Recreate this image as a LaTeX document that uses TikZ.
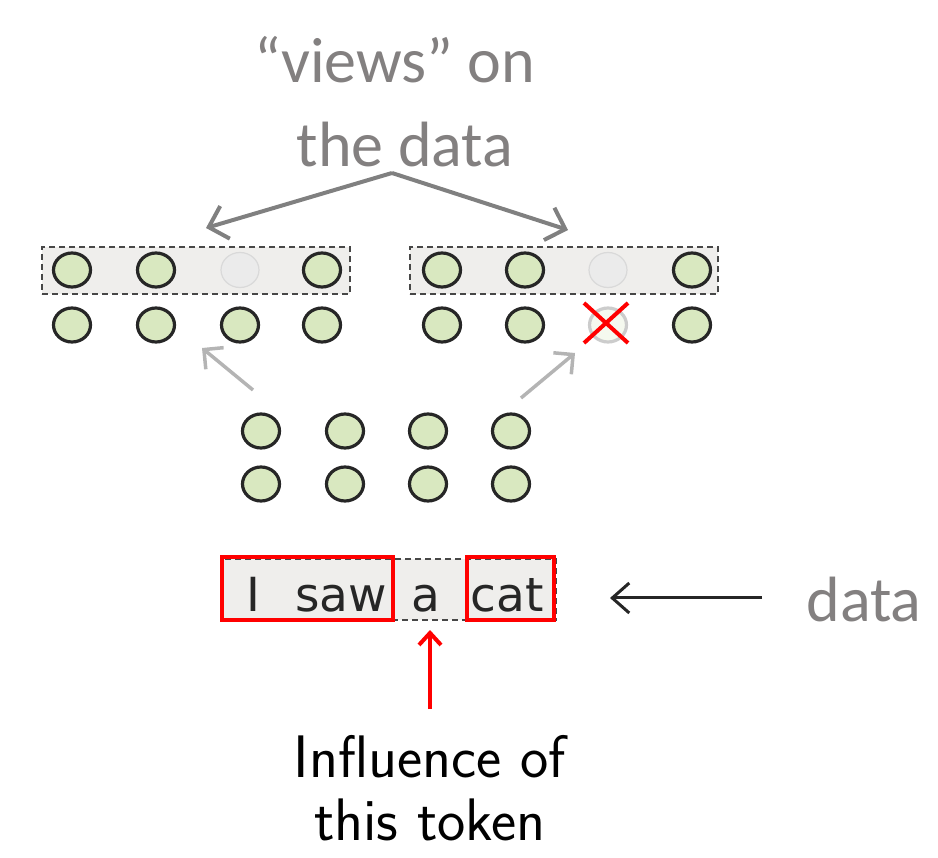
\documentclass[tikz,border=0pt]{standalone}
\usepackage{fontspec}
\setmainfont{Carlito}
\newfontfamily\wordfont{DejaVu Sans}
\usetikzlibrary{arrows.meta,positioning,shapes.geometric}

\definecolor{unitgreen}{HTML}{D9E8C0}
\definecolor{unitline}{HTML}{262626}
\definecolor{viewfill}{HTML}{EFEEEC}
\definecolor{notegray}{HTML}{838080}
\definecolor{lightgray}{HTML}{B4B4B4}

\tikzstyle{unit} = [ellipse,draw=unitline,fill=unitgreen,line width=3.2pt,minimum width=37pt,minimum height=34pt,inner sep=0pt]
\tikzstyle{faded} = [ellipse,draw=black!15,fill=black!8,line width=1.2pt,minimum width=38pt,minimum height=35pt,inner sep=0pt]
\tikzstyle{dropped} = [ellipse,draw=black!20,fill=unitgreen!25,line width=3.2pt,minimum width=37pt,minimum height=34pt,inner sep=0pt]
\tikzstyle{view} = [rectangle,draw=unitline!85,fill=viewfill,dash pattern=on 6pt off 4pt,line width=1.8pt,inner sep=0pt]
\tikzstyle{word} = [anchor=base,inner sep=0pt,text=unitline,font=\wordfont\fontsize{47}{47}\selectfont]
\tikzstyle{note} = [anchor=base,inner sep=0pt,text=notegray,font=\fontsize{64}{64}\selectfont]
\tikzstyle{redbox} = [rectangle,draw=red,line width=3.5pt,inner sep=0pt,minimum height=63pt]

\begin{document}
\begin{tikzpicture}[x=1pt,y=-1pt]
	\useasboundingbox (0,0) rectangle (938,858);
	% views on the data
	\node (views1) [note] at (395,83) {“views” on};
	\node (views2) [note] at (405,167) {the data};
	\coordinate (apex) at (392,173);
	\coordinate (lefttip) at (206,228);
	\coordinate (righttip) at (568,230);
	\draw [-{Straight Barb[length=17pt,width=34pt]},draw=gray,line width=4pt] (apex) -- (lefttip);
	\draw [-{Straight Barb[length=17pt,width=34pt]},draw=gray,line width=4pt] (apex) -- (righttip);
	% two views
	\node (leftview) [view,minimum width=308pt,minimum height=47pt] at (196,270.5) {};
	\node (rightview) [view,minimum width=308pt,minimum height=47pt] at (564,270.5) {};
	\node (lt1) [unit] at (72,270) {};
	\node (lt2) [unit] at (156,270) {};
	\node (lt3) [faded] at (240,270) {};
	\node (lt4) [unit] at (322,270) {};
	\node (lb1) [unit] at (72,325) {};
	\node (lb2) [unit] at (156,325) {};
	\node (lb3) [unit] at (240,325) {};
	\node (lb4) [unit] at (322,325) {};
	\node (rt1) [unit] at (442,270) {};
	\node (rt2) [unit] at (525,270) {};
	\node (rt3) [faded] at (608,270) {};
	\node (rt4) [unit] at (692,270) {};
	\node (rb1) [unit] at (442,325) {};
	\node (rb2) [unit] at (525,325) {};
	\node (rb3) [dropped] at (608,325) {};
	\node (rb4) [unit] at (692,325) {};
	\draw [red,line width=4pt] ([shift={(-24,-22)}]rb3.center) -- ([shift={(20,18)}]rb3.center);
	\draw [red,line width=4pt] ([shift={(-24,18)}]rb3.center) -- ([shift={(20,-22)}]rb3.center);
	% hidden states
	\node (mt1) [unit] at (261,431) {};
	\node (mt2) [unit] at (345,431) {};
	\node (mt3) [unit] at (428,431) {};
	\node (mt4) [unit] at (511,431) {};
	\node (mb1) [unit] at (261,484) {};
	\node (mb2) [unit] at (345,484) {};
	\node (mb3) [unit] at (428,484) {};
	\node (mb4) [unit] at (511,484) {};
	\coordinate (leftfoot) at (253,390);
	\coordinate (lefthead) at (202,348);
	\coordinate (rightfoot) at (521,398);
	\coordinate (righthead) at (575,353);
	\draw [-{Straight Barb[length=14pt,width=28pt]},draw=lightgray,line width=3.5pt] (leftfoot) -- (lefthead);
	\draw [-{Straight Barb[length=14pt,width=28pt]},draw=lightgray,line width=3.5pt] (rightfoot) -- (righthead);
	% data
	\node (sentence) [view,minimum width=334pt,minimum height=61pt] at (389,589.5) {};
	\node (wordi) [word] at (253,612) {I};
	\node (wordsaw) [word] at (341,612) {saw};
	\node (worda) [word] at (426,612) {a};
	\node (wordcat) [word] at (507,612) {cat};
	\node (boxsaw) [redbox,minimum width=171pt] at (307.5,588.5) {};
	\node (boxcat) [redbox,minimum width=87pt] at (510.5,588.5) {};
	\node (data) [note] at (864,621) {data};
	\coordinate (datafoot) at (762,598);
	\coordinate (datahead) at (610,598);
	\draw [-{Straight Barb[length=17pt,width=30pt]},draw=unitline,line width=3pt] (datafoot) -- (datahead);
	% influence
	\node (influence1) [anchor=base,inner sep=0pt,font=\sffamily\fontsize{60}{60}\selectfont] at (430,777) {Influence of};
	\node (influence2) [anchor=base,inner sep=0pt,font=\sffamily\fontsize{60}{60}\selectfont] at (430,840) {this token};
	\coordinate (tokenfoot) at (430,709);
	\coordinate (tokenhead) at (430,630);
	\draw [-{Straight Barb[length=12pt,width=22pt]},draw=red,line width=4pt] (tokenfoot) -- (tokenhead);
\end{tikzpicture}
\end{document}
